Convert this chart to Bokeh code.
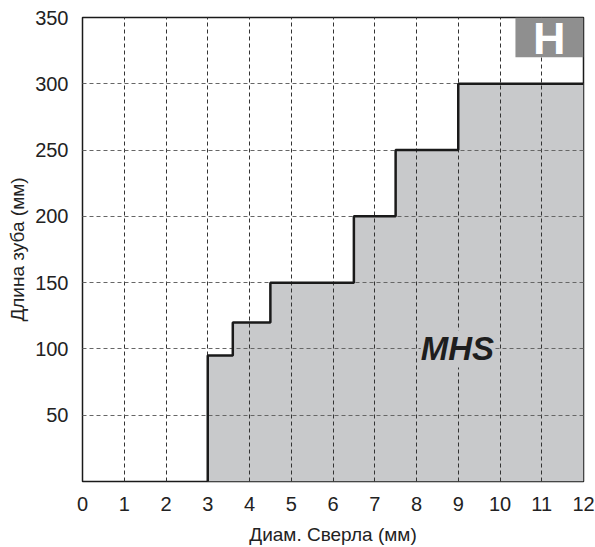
from bokeh.plotting import figure
from bokeh.models import FixedTicker, Range1d, Label, BoxAnnotation
from bokeh.embed import file_html
from bokeh.resources import INLINE

# ---- data ----
step_start = [3, 3.6, 4.5, 6.5, 7.5, 9]        # drill diameter where each step begins (mm)
step_height = [95, 120, 150, 200, 250, 300]     # tooth length (mm)
x_end = 12
x_ticks = list(range(0, 13))
y_ticks = [50, 100, 150, 200, 250, 300, 350]
x_label = "Диам. Сверла (мм)"
y_label = "Длина зуба (мм)"
brand = "MHS"
badge = "H"

FONT = "Liberation Sans"

# build step outline from the data
line_x, line_y = [step_start[0]], [0]
for i, h in enumerate(step_height):
    x0 = step_start[i]
    x1 = step_start[i + 1] if i + 1 < len(step_start) else x_end
    line_x += [x0, x1]
    line_y += [h, h]
area_x = line_x + [x_end]
area_y = line_y + [0]

p = figure(width=595, height=547, output_backend="svg", toolbar_location=None,
           x_range=Range1d(0, 12), y_range=Range1d(0, 350),
           min_border_left=82, min_border_right=12, min_border_top=17, min_border_bottom=64)
p.background_fill_color = "white"
p.border_fill_color = "white"
p.outline_line_color = "#1a1a1a"
p.outline_line_width = 1.5

p.patch(area_x, area_y, fill_color="#c8c9cb", line_color=None)
ln = p.line(line_x, line_y, line_color="#1a1a1a", line_width=2.5)
ln.level = "overlay"

# axes
p.xaxis.ticker = FixedTicker(ticks=x_ticks)
p.yaxis.ticker = FixedTicker(ticks=y_ticks)
for ax in (p.xaxis[0], p.yaxis[0]):
    ax.axis_line_color = None
    ax.major_tick_line_color = None
    ax.minor_tick_line_color = None
    ax.major_label_text_font = FONT
    ax.major_label_text_font_size = "20px"
    ax.major_label_text_color = "#222222"
    ax.axis_label_text_font = FONT
    ax.axis_label_text_font_size = "19px"
    ax.axis_label_text_font_style = "normal"
    ax.axis_label_text_color = "#222222"
p.xaxis.major_label_standoff = 9
p.yaxis.major_label_standoff = 8
p.xaxis.axis_label = x_label
p.yaxis.axis_label = y_label
p.xaxis.axis_label_standoff = 10
p.yaxis.axis_label_standoff = 4

# grid
p.xgrid.ticker = FixedTicker(ticks=x_ticks[1:-1])
p.ygrid.ticker = FixedTicker(ticks=y_ticks[:-1])
p.xgrid.grid_line_color = "#333333"
p.xgrid.grid_line_dash = "4 3"
p.ygrid.grid_line_color = "#666666"
p.ygrid.grid_line_dash = "4 3"
p.xgrid.grid_line_width = 1
p.ygrid.grid_line_width = 1
p.xgrid.level = "annotation"
p.ygrid.level = "annotation"

# badge
p.add_layout(BoxAnnotation(left=10.37, right=12, bottom=320, top=350,
                           fill_color="#8f8f8f", fill_alpha=1, line_color=None))
p.add_layout(Label(x=11.18, y=334, text=badge, text_color="white", text_font=FONT,
                   text_font_size="45px", text_font_style="bold",
                   text_align="center", text_baseline="middle"))

# brand text
p.add_layout(Label(x=8.98, y=100, text=brand, text_color="#1e1e1e", text_font=FONT,
                   text_font_size="33px", text_font_style="bold italic",
                   text_align="center", text_baseline="middle",
                   background_fill_color="#c8c9cb", background_fill_alpha=1))

open("out.html", "w").write(file_html(p, INLINE))
